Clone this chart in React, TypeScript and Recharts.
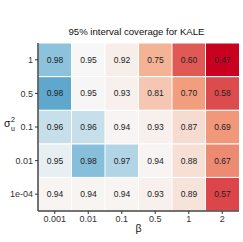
import React from 'react';
import { BarChart, Bar, XAxis, YAxis, Cell, LabelList } from 'recharts';

// β categories (columns) and σ_u² levels (rows, top to bottom)
const betaLabels = ['0.001', '0.01', '0.1', '0.5', '1', '2'];
const sigmaLabels = ['1', '0.5', '0.1', '0.01', '1e-04'];

// coverage values per σ_u² row, across β
const covSigma1 = [0.976, 0.95, 0.921, 0.75, 0.6, 0.47];
const covSigma05 = [0.984, 0.948, 0.93, 0.81, 0.7, 0.58];
const covSigma01 = [0.962, 0.962, 0.941, 0.93, 0.87, 0.69];
const covSigma001 = [0.954, 0.977, 0.967, 0.942, 0.88, 0.67];
const covSigma1e4 = [0.94, 0.94, 0.94, 0.93, 0.89, 0.57];

const title = '95% interval coverage for KALE';

const rowsTopDown = [covSigma1, covSigma05, covSigma01, covSigma001, covSigma1e4];
const rowsBottomUp = [...rowsTopDown].reverse();
const sigmaBottomUp = [...sigmaLabels].reverse();

const data = betaLabels.map((b, i) => {
  const o: Record<string, number | string> = { beta: b };
  rowsBottomUp.forEach((row, j) => {
    o['u' + j] = 1;
    o['v' + j] = row[i];
  });
  return o;
});

const anchors: [number, [number, number, number]][] = [
  [0.47, [202, 0, 32]],
  [0.71, [244, 165, 130]],
  [0.95, [247, 247, 247]],
  [0.975, [146, 197, 222]],
  [1.0, [5, 113, 176]],
];

function colorFor(v: number): string {
  if (v <= anchors[0][0]) return `rgb(${anchors[0][1].join(',')})`;
  for (let k = 0; k < anchors.length - 1; k++) {
    const [a, ca] = anchors[k];
    const [b, cb] = anchors[k + 1];
    if (v <= b) {
      const t = (v - a) / (b - a);
      const c = ca.map((x, idx) => Math.round(x + (cb[idx] - x) * t));
      return `rgb(${c.join(',')})`;
    }
  }
  return `rgb(${anchors[anchors.length - 1][1].join(',')})`;
}

const FONT = '"Liberation Sans", Arial, Helvetica, sans-serif';

const SigmaLabel = (props: any) => {
  const vb = props.viewBox || { x: 0, y: 43, width: 38, height: 168 };
  const x = 4;
  const y = vb.y + vb.height / 2 - 2;
  return (
    <g fontFamily={FONT} fill="#111">
      <text x={x} y={y + 2} fontSize={10.5}>σ</text>
      <text x={x + 7} y={y - 3} fontSize={7}>2</text>
      <text x={x + 7} y={y + 5.5} fontSize={7}>u</text>
    </g>
  );
};

export default function App() {
  return (
    <div style={{ position: 'absolute', left: 0, top: 0, width: 243, height: 242, background: '#fff' }}>
      <div
        style={{
          position: 'absolute',
          left: 38,
          width: 197,
          top: 26,
          textAlign: 'center',
          fontFamily: FONT,
          fontSize: 9.6,
          lineHeight: '11px',
          color: '#111',
          whiteSpace: 'nowrap',
        }}
      >
        {title}
      </div>
      <BarChart
        width={243}
        height={242}
        data={data}
        margin={{ top: 43, right: 4, left: 0, bottom: 0 }}
        barCategoryGap={0}
        barGap={0}
      >
        <XAxis
          dataKey="beta"
          height={31}
          tickSize={3}
          tickMargin={1.5}
          tick={{ fontSize: 9, fill: '#333', fontFamily: FONT }}
          tickLine={{ stroke: '#333' }}
          axisLine={{ stroke: '#444', strokeWidth: 1.5 }}
          label={{ value: 'β', position: 'insideBottom', offset: 10, fontSize: 10.5, fill: '#111', fontFamily: FONT }}
        />
        <XAxis
          xAxisId="top"
          dataKey="beta"
          orientation="top"
          height={0}
          tick={false}
          tickLine={false}
          axisLine={{ stroke: '#777', strokeWidth: 1 }}
        />
        <YAxis
          type="number"
          domain={[0, 5]}
          ticks={[0.5, 1.5, 2.5, 3.5, 4.5]}
          tickFormatter={(v: number) => sigmaBottomUp[Math.floor(v)]}
          width={38}
          tickSize={3}
          tickMargin={2}
          tick={{ fontSize: 9, fill: '#333', fontFamily: FONT }}
          tickLine={{ stroke: '#333' }}
          axisLine={{ stroke: '#444', strokeWidth: 1.5 }}
          label={<SigmaLabel />}
        />
        <YAxis
          yAxisId="right"
          orientation="right"
          type="number"
          domain={[0, 5]}
          width={0}
          tick={false}
          tickLine={false}
          axisLine={{ stroke: '#777', strokeWidth: 1 }}
        />
        {rowsBottomUp.map((row, j) => (
          <Bar
            key={j}
            dataKey={'u' + j}
            stackId="grid"
            stroke="#fff"
            strokeWidth={1}
            isAnimationActive={false}
          >
            {row.map((v, i) => (
              <Cell key={i} fill={colorFor(v)} />
            ))}
            <LabelList
              dataKey={'v' + j}
              position="center"
              formatter={(v: any) => Number(v).toFixed(2)}
              fill="#222"
              fontSize={8.5}
              fontFamily={FONT}
            />
          </Bar>
        ))}
      </BarChart>
    </div>
  );
}
